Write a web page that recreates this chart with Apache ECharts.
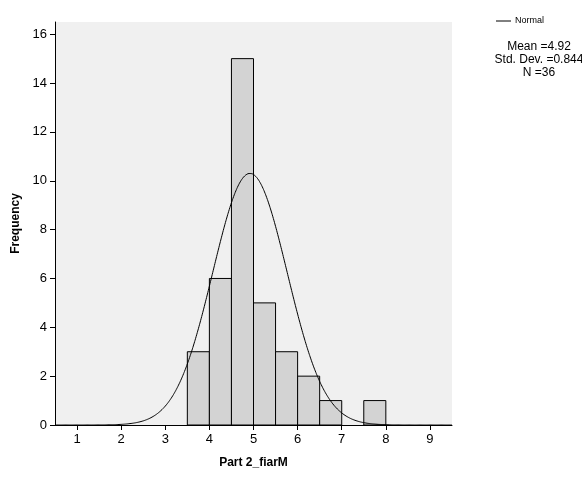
<!DOCTYPE html>
<html><head><meta charset="utf-8">
<script src="https://cdn.jsdelivr.net/npm/echarts@6/dist/echarts.min.js"></script>
<style>html,body{margin:0;background:#fff}#c{width:582px;height:479px}</style>
</head><body><div id="c"></div>
<script>
const binStarts = [3.5, 4.0, 4.5, 5.0, 5.5, 6.0, 6.5, 7.5];
const binCounts = [3, 6, 15, 5, 3, 2, 1, 1];
const binWidth = 0.5;
const xTicks = [1,2,3,4,5,6,7,8,9];
const yTicks = [0,2,4,6,8,10,12,14,16];
const mean = 4.92, sd = 0.844, n = 36;
const curvePeak = 10.3;
const curve = [];
for (let i = 0; i <= 180; i++) {
  const x = 0.5 + i * 0.05;
  curve.push([x, curvePeak * Math.exp(-0.5 * Math.pow((x - mean) / sd, 2))]);
}
const chart = echarts.init(document.getElementById('c'));
const font = 'Arial, "Liberation Sans", sans-serif';
chart.setOption({
  animation:false,
  textStyle:{fontFamily:font},
  grid:{left:55,right:130,top:22,bottom:54,show:true,backgroundColor:'#f0f0f0',borderColor:'#000',borderWidth:0},
  xAxis:{type:'value',min:0.5,max:9.5,name:'Part 2_fiarM',nameLocation:'middle',nameGap:32,
    nameTextStyle:{fontWeight:'bold',fontSize:12,color:'#000'},
    axisLine:{lineStyle:{color:'#000'}},splitLine:{show:false},
    axisTick:{customValues:xTicks,length:5,lineStyle:{color:'#000'}},
    axisLabel:{customValues:xTicks,color:'#000',fontSize:13}},
  yAxis:{type:'value',min:0,max:16.5,name:'Frequency',nameLocation:'middle',nameGap:32,
    nameTextStyle:{fontWeight:'bold',fontSize:12,color:'#000'},
    axisLine:{show:true,lineStyle:{color:'#000'}},splitLine:{show:false},
    axisTick:{customValues:yTicks,length:5,lineStyle:{color:'#000'}},
    axisLabel:{customValues:yTicks,color:'#000',fontSize:13}},
  series:[
    {type:'custom',data:binStarts.map((s,i)=>[s,binCounts[i]]),
     renderItem:(p,api)=>{
       const a=api.coord([api.value(0),api.value(1)]);
       const b=api.coord([api.value(0)+binWidth,0]);
       return {type:'rect',shape:{x:a[0],y:a[1],width:b[0]-a[0],height:b[1]-a[1]},
         style:{fill:'#d3d3d3',stroke:'#000',lineWidth:1}};
     }},
    {type:'line',data:curve,showSymbol:false,smooth:true,lineStyle:{color:'#000',width:1},z:5}
  ],
  graphic:[
    {type:'line',shape:{x1:496,y1:21,x2:511,y2:21},style:{stroke:'#000',lineWidth:1}},
    {type:'text',x:515,y:16,style:{text:'Normal',fontSize:9,fill:'#000',fontFamily:font}},
    {type:'text',x:539,y:40,style:{text:'Mean =4.92\nStd. Dev. =0.844\nN =36',align:'center',fontSize:12,lineHeight:13,fill:'#000',fontFamily:font}}
  ]
});
</script></body></html>
